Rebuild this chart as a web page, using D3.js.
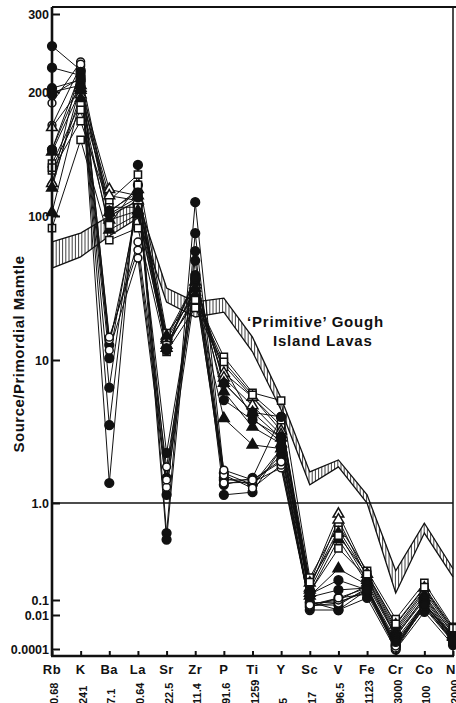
<!DOCTYPE html>
<html>
<head>
<meta charset="utf-8">
<script src="https://cdn.jsdelivr.net/npm/d3@7"></script>
<style>
  body { margin: 0; background: #fff; }
  svg text { font-family: "Liberation Sans", Arial, sans-serif; font-weight: bold; fill: #111; }
</style>
</head>
<body>
<div id="chart"></div>
<script>
'use strict';

// element order on the x axis and the primordial mantle values written under them
const elements = ['Rb', 'K', 'Ba', 'La', 'Sr', 'Zr', 'P', 'Ti', 'Y', 'Sc', 'V', 'Fe', 'Cr', 'Co', 'Ni'];
const primordial = ['0.68', '241', '7.1', '0.64', '22.5', '11.4', '91.6', '1259', '5', '17', '96.5', '1123', '3000', '100', '2000'];

// axis ticks (the original axis is broken: uneven spacing per decade)
const yTickValues = [300, 200, 100, 10, 1, 0.1, 0.01, 0.0001];
const yTickLabels = ['300', '200', '100', '10', '1.0', '0.1', '0.01', '0.0001'];

// hatched field: primitive Gough Island lavas
const bandUpper = [66, 76, 100, 109, 31.6, 25.3, 26.9, 14.4, 5.4, 1.65, 2.0, 1.14, 0.20, 0.62, 0.21];
const bandLower = [43.5, 52, 72.6, 96.8, 25.3, 19.9, 21.5, 11.4, 4.47, 1.34, 1.79, 1.0, 0.118, 0.49, 0.173];

// source samples (fc filled circle, oc open circle, ft filled triangle, ot open triangle, sq open square)
const sampleA1 = [254, 224, 1.38, 133, 0.49, 108, 1.62, 1.34, 2.4, 0.0215, 0.0215, 0.105, 0.00009, 0.016, 0.00017];
const sampleA2 = [227, 218, 3.5, 119, 0.42, 76, 1.45, 1.45, 2.0, 0.034, 0.105, 0.115, 0.00013, 0.034, 0.00034];
const sampleA3 = [204, 213, 6.4, 114, 1.14, 57, 1.34, 1.5, 4.0, 0.074, 0.0215, 0.127, 0.00017, 0.046, 0.00067];
const sampleA4 = [200, 207, 10.3, 111, 1.5, 49, 1.14, 1.19, 2.4, 0.046, 0.046, 0.133, 0.0002, 0.063, 0.0005];
const sampleA5 = [145, 211, 12.7, 106, 2.24, 35.9, 1.5, 1.34, 2.17, 0.063, 0.074, 0.121, 0.00015, 0.029, 0.00026];
const sampleB1 = [188, 234, 13.8, 66, 1.79, 33.2, 1.38, 1.4, 1.76, 0.04, 0.063, 0.127, 0.00009, 0.04, 0.00034];
const sampleB2 = [166, 229, 11.7, 51, 1.29, 30.6, 1.57, 1.27, 1.84, 0.054, 0.1, 0.14, 0.00011, 0.054, 0.00044];
const sampleB3 = [119, 231, 14.4, 58, 1.45, 37.1, 1.7, 1.45, 1.94, 0.046, 0.105, 0.133, 0.00015, 0.063, 0.0005];
const sampleC1 = [134, 188, 109, 126, 15.4, 27.4, 10.5, 5.9, 5.2, 0.17, 0.59, 0.20, 0.0058, 0.15, 0.002];
const sampleC2 = [129, 170, 105, 105, 13.3, 24.9, 9.2, 5.5, 3.45, 0.143, 0.53, 0.18, 0.0017, 0.127, 0.0013];
const sampleC3 = [82.5, 153, 68, 82.5, 11.4, 23, 8.9, 3.9, 2.67, 0.121, 0.34, 0.17, 0.0005, 0.107, 0.00088];
const sampleC4 = [164, 204, 116, 112, 14.2, 33.2, 8.1, 5.5, 3.2, 0.15, 0.77, 0.185, 0.0026, 0.133, 0.0013];
const sampleC5 = [120, 197, 112, 109, 13.8, 29.7, 7.5, 4.8, 3.0, 0.133, 0.67, 0.17, 0.0013, 0.121, 0.001];
const sampleC6 = [143, 202, 102, 116, 14.7, 34.8, 6.9, 4.3, 2.85, 0.127, 0.49, 0.16, 0.001, 0.113, 0.00076];
const sampleC7 = [102, 193, 80, 101, 12.7, 31.6, 6.0, 3.4, 2.6, 0.118, 0.42, 0.15, 0.00076, 0.105, 0.00058];
const sampleC8 = [117, 207, 93.8, 103, 12.1, 28.3, 3.9, 2.55, 2.4, 0.11, 0.21, 0.143, 0.00058, 0.1, 0.0005];
const sampleC9 = [131, 181, 86.6, 119, 12.7, 26.1, 9.7, 5.7, 3.8, 0.153, 0.46, 0.185, 0.003, 0.136, 0.0017];
const sampleC10 = [145, 222, 103, 114, 11.7, 38.9, 5.25, 3.8, 2.9, 0.107, 0.127, 0.133, 0.00034, 0.063, 0.00034];
const sampleC11 = [197, 215, 101, 111, 12.1, 37.1, 6.9, 4.3, 4.0, 0.115, 0.16, 0.127, 0.00026, 0.046, 0.00026];

const samples = [sampleA1, sampleA2, sampleA3, sampleA4, sampleA5, sampleB1, sampleB2, sampleB3,
    sampleC1, sampleC2, sampleC3, sampleC4, sampleC5, sampleC6, sampleC7, sampleC8, sampleC9, sampleC10, sampleC11];
const sampleMarkers = ['fc', 'fc', 'fc', 'fc', 'fc', 'oc', 'oc', 'oc',
    'sq', 'sq', 'sq', 'ot', 'ot', 'ft', 'ft', 'ft', 'sq', 'fc', 'fc'];

const width = 456,
    height = 703,
    plotLeft = 52,
    plotRight = 453,
    plotTop = 7,
    plotBottom = 656;

const svg = d3.select('#chart')
  .append('svg')
    .attr('width', width)
    .attr('height', height);

const x = d3.scalePoint()
    .domain(elements)
    .range([plotLeft, plotRight]);

// piecewise log scale to reproduce the uneven decades of the original axis
const y = d3.scaleLog()
    .domain([0.00003, 0.0001, 0.01, 0.1, 1, 10, 100, 200, 300, 311])
    .range([plotBottom, 649, 615, 600, 503, 360, 216, 92, 14, plotTop]);

// hatched band
const step = x.step();
function bandY(values, px) {
    let i = Math.min(Math.floor((px - plotLeft) / step), elements.length - 2),
        t = (px - plotLeft - i * step) / step;
    return y(values[i]) * (1 - t) + y(values[i + 1]) * t;
}

const band = svg.append('g').classed('band', true);

band.selectAll('line.hatch')
    .data(d3.range(plotLeft + 1, plotRight, 3.2))
  .enter().append('line')
    .classed('hatch', true)
    .attr('x1', d => d)
    .attr('x2', d => d)
    .attr('y1', d => bandY(bandUpper, d))
    .attr('y2', d => bandY(bandLower, d))
    .style('stroke', '#111')
    .style('stroke-width', 0.8);

const line = d3.line()
    .x((d, i) => x(elements[i]))
    .y(d => y(d));

[bandUpper, bandLower].forEach(edge => {
    band.append('path')
        .attr('d', line(edge))
        .style('fill', 'none')
        .style('stroke', '#111')
        .style('stroke-width', 1.3);
});

// sample lines
svg.append('g').classed('sample-lines', true)
    .selectAll('path')
    .data(samples)
  .enter().append('path')
    .attr('d', line)
    .style('fill', 'none')
    .style('stroke', '#111')
    .style('stroke-width', 1);

// markers
const symbolFor = {
    fc: d3.symbol().type(d3.symbolCircle).size(60),
    oc: d3.symbol().type(d3.symbolCircle).size(48),
    ft: d3.symbol().type(d3.symbolTriangle).size(50),
    ot: d3.symbol().type(d3.symbolTriangle).size(50),
    sq: d3.symbol().type(d3.symbolSquare).size(52)
};

const markerGroups = svg.append('g').classed('markers', true)
    .selectAll('g')
    .data(samples.map((values, k) => ({values, marker: sampleMarkers[k]})))
  .enter().append('g');

markerGroups.selectAll('path')
    .data(d => d.values.map((v, i) => ({v, i, marker: d.marker})))
  .enter().append('path')
    .attr('d', d => symbolFor[d.marker]())
    .attr('transform', d => `translate(${x(elements[d.i])},${y(d.v)})`)
    .style('fill', d => (d.marker === 'fc' || d.marker === 'ft') ? '#111' : '#fff')
    .style('stroke', '#111')
    .style('stroke-width', 1.5);

// reference line at 1.0
svg.append('line')
    .attr('x1', plotLeft)
    .attr('x2', plotRight)
    .attr('y1', y(1))
    .attr('y2', y(1))
    .style('stroke', '#111')
    .style('stroke-width', 1.6);

// frame
svg.append('line')
    .attr('x1', plotLeft).attr('x2', width)
    .attr('y1', plotTop).attr('y2', plotTop)
    .style('stroke', '#111').style('stroke-width', 2.2);
svg.append('line')
    .attr('x1', plotRight).attr('x2', plotRight)
    .attr('y1', plotTop).attr('y2', plotBottom)
    .style('stroke', '#111').style('stroke-width', 1.5);

// y axis
const yAxis = d3.axisLeft(y)
    .tickValues(yTickValues)
    .tickFormat((d, i) => yTickLabels[i])
    .tickSizeInner(-8)
    .tickSizeOuter(0)
    .tickPadding(3);

const yAxisGroup = svg.append('g')
    .attr('transform', `translate(${plotLeft},0)`)
    .call(yAxis);

yAxisGroup.select('.domain')
    .attr('d', `M0,${plotTop}V${plotBottom}`)
    .style('stroke', '#111')
    .style('stroke-width', 2.6);
yAxisGroup.selectAll('.tick line')
    .style('stroke', '#111')
    .style('stroke-width', 2);
yAxisGroup.selectAll('.tick text')
    .style('font-size', '12.5px')
    .style('font-family', '"Liberation Sans", Arial, sans-serif')
    .style('font-weight', 'bold')
    .style('fill', '#111');

// x axis
const xAxis = d3.axisBottom(x)
    .tickSizeInner(-5)
    .tickSizeOuter(0)
    .tickFormat('');

const xAxisGroup = svg.append('g')
    .attr('transform', `translate(0,${plotBottom})`)
    .call(xAxis);

xAxisGroup.select('.domain')
    .attr('d', `M${plotLeft - 1},0H${plotRight + 1}`)
    .style('stroke', '#111')
    .style('stroke-width', 2.6);
xAxisGroup.selectAll('.tick line')
    .style('stroke', '#111')
    .style('stroke-width', 2);

svg.append('g').classed('element-labels', true)
    .selectAll('text')
    .data(elements)
  .enter().append('text')
    .attr('x', d => x(d))
    .attr('y', 674)
    .attr('text-anchor', 'middle')
    .style('font-size', '13px')
    .style('letter-spacing', '0.5px')
    .text(d => d);

svg.append('g').classed('primordial-labels', true)
    .selectAll('text')
    .data(primordial)
  .enter().append('text')
    .attr('transform', (d, i) => `translate(${x(elements[i]) + 6},704) rotate(-90)`)
    .style('font-size', '11px')
    .text(d => d);

// axis title
svg.append('text')
    .attr('transform', 'translate(24,354) rotate(-90)')
    .attr('text-anchor', 'middle')
    .style('font-size', '15px')
    .style('letter-spacing', '0.5px')
    .text('Source/Primordial Mamtle');

// field annotation
svg.append('text')
    .attr('x', 247)
    .attr('y', 327)
    .style('font-size', '15px')
    .style('letter-spacing', '0.8px')
    .text('\u2018Primitive\u2019 Gough');
svg.append('text')
    .attr('x', 273)
    .attr('y', 346)
    .style('font-size', '15px')
    .style('letter-spacing', '0.8px')
    .text('Island Lavas');
</script>
</body>
</html>
